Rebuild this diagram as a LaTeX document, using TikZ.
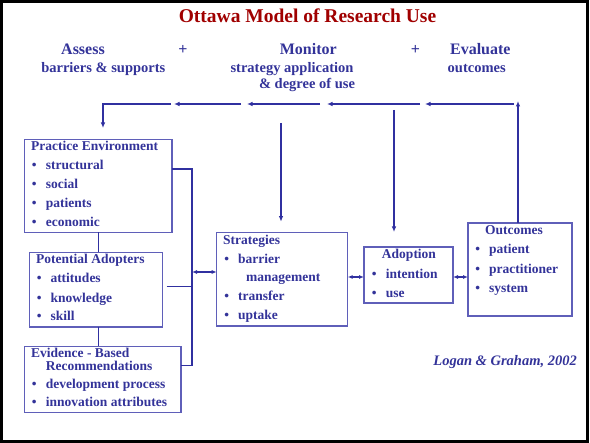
\documentclass[tikz,border=0pt]{standalone}
\usepackage{fontspec}
\setmainfont{Liberation Serif}
\usetikzlibrary{arrows.meta}
\definecolor{txt}{RGB}{51,51,153}
\definecolor{ln}{RGB}{48,48,160}
\definecolor{bx}{RGB}{95,95,185}
\definecolor{ttl}{RGB}{160,0,0}
\tikzset{
 box/.style={draw=bx, line width=1.2pt, inner sep=0pt, outer sep=0pt, anchor=north west},
 t/.style={text=txt, font=\fontsize{13.5}{14}\selectfont\bfseries, inner sep=0pt, anchor=base west},
 tc/.style={text=txt, font=\fontsize{13.5}{14}\selectfont\bfseries, inner sep=0pt, anchor=base},
 bl/.style={text=txt, font=\fontsize{13.5}{14}\selectfont\bfseries, inner sep=0pt, anchor=base},
 hd/.style={text=txt, font=\fontsize{16}{18}\selectfont\bfseries, inner sep=0pt, anchor=base},
 sh/.style={text=txt, font=\fontsize{14.5}{16}\selectfont\bfseries, inner sep=0pt, anchor=base},
 conn/.style={draw=ln, line width=1.5pt},
 arr/.style={conn, -{Latex[length=5.5pt,width=4.5pt]}},
 dbl/.style={conn, {Latex[length=5pt,width=4pt]}-{Latex[length=5pt,width=4pt]}},
}
\begin{document}
\begin{tikzpicture}[x=1pt,y=-1pt]
\useasboundingbox (0,0) rectangle (590,443);
\draw[black, line width=2.6pt] (1.3,1.3) rectangle (587.7,441.7);
% title
\node[text=ttl, font=\fontsize{19.5}{22}\selectfont\bfseries, inner sep=0pt, anchor=base] (title) at (307.5,23) {Ottawa Model of Research Use};
% headers
\node[hd] (h1) at (83,55) {Assess};
\node[hd] (p1) at (183,55) {+};
\node[hd] (h2) at (308.3,55) {Monitor};
\node[hd] (p2) at (415.5,55) {+};
\node[hd] (h3) at (480.3,55) {Evaluate};
\node[sh] (s1) at (103.3,72.3) {barriers \& supports};
\node[sh] (s2) at (292,72.3) {strategy application};
\node[sh] (s3) at (307,88.3) {\& degree of use};
\node[sh] (s4) at (476.7,72.3) {outcomes};
% boxes
\node[box, minimum width=147.7pt, minimum height=93pt] (pe) at (24.3,139.3) {};
\node[box, minimum width=133.4pt, minimum height=74.7pt] (pa) at (29.3,252.3) {};
\node[box, minimum width=156.7pt, minimum height=66.4pt] (ebr) at (24.3,346.3) {};
\node[box, minimum width=131pt, minimum height=93.3pt] (st) at (216.7,232.7) {};
\node[box, minimum width=89pt, minimum height=56pt] (ad) at (364,247) {};
\node[box, minimum width=104pt, minimum height=93pt] (oc) at (468,223) {};
% practice environment
\node[t] (pe0) at (31,150.7) {Practice Environment};
\node[bl] (peb1) at (34.3,169.7) {•}; \node[t] (pe1) at (45.7,169.7) {structural};
\node[bl] (peb2) at (34.3,188.3) {•}; \node[t] (pe2) at (45.7,188.3) {social};
\node[bl] (peb3) at (34.3,207.3) {•}; \node[t] (pe3) at (45.7,207.3) {patients};
\node[bl] (peb4) at (34.3,226.3) {•}; \node[t] (pe4) at (45.7,226.3) {economic};
% potential adopters
\node[t] (pa0) at (36,264) {Potential Adopters};
\node[bl] (pab1) at (39.3,283) {•}; \node[t] (pa1) at (50.3,283) {attitudes};
\node[bl] (pab2) at (39.3,303) {•}; \node[t] (pa2) at (50.3,303) {knowledge};
\node[bl] (pab3) at (39.3,320.7) {•}; \node[t] (pa3) at (50.3,320.7) {skill};
% evidence
\node[text=txt, font=\fontsize{13.5}{13}\selectfont\bfseries, inner sep=0pt, anchor=base west, align=left] (eb0) at (31,370.5) {Evidence - Based\\\hspace*{14.7pt}Recommendations};
\node[bl] (ebb1) at (34.3,388.3) {•}; \node[t] (eb1) at (45.7,388.3) {development process};
\node[bl] (ebb2) at (34.3,406.7) {•}; \node[t] (eb2) at (45.7,406.7) {innovation attributes};
% strategies
\node[t] (st0) at (223,245) {Strategies};
\node[bl] (stb1) at (226.7,264) {•}; \node[t] (st1) at (238,264) {barrier};
\node[t] (st1b) at (246,282) {management};
\node[bl] (stb2) at (226.7,300.7) {•}; \node[t] (st2) at (238,300.7) {transfer};
\node[bl] (stb3) at (226.7,320) {•}; \node[t] (st3) at (238,320) {uptake};
% adoption
\node[tc] (ad0) at (409,259) {Adoption};
\node[bl] (adb1) at (374.3,278.3) {•}; \node[t] (ad1) at (385.7,278.3) {intention};
\node[bl] (adb2) at (374.3,297.3) {•}; \node[t] (ad2) at (385.7,297.3) {use};
% outcomes
\node[tc] (oc0) at (514,235) {Outcomes};
\node[bl] (ocb1) at (477.7,254) {•}; \node[t] (oc1) at (489,254) {patient};
\node[bl] (ocb2) at (477.7,273.3) {•}; \node[t] (oc2) at (489,273.3) {practitioner};
\node[bl] (ocb3) at (477.7,292.3) {•}; \node[t] (oc3) at (489,292.3) {system};
% citation
\node[text=txt, font=\fontsize{14.5}{16}\selectfont\bfseries\itshape, inner sep=0pt, anchor=base east] (cite) at (577,366) {Logan \& Graham, 2002};
% left bus
\coordinate (b1) at (192,169);
\coordinate (b2) at (192,286.7);
\coordinate (b3) at (192,365.7);
\coordinate (bs) at (192,272);
\draw[conn] (pe.east |- b1) -- (b1) -- (b3) -- (ebr.east |- b3);
\draw[conn, shorten <=4pt] (pa.east |- b2) -- (b2);
\draw[dbl] (bs) -- (st.west |- bs);
% vertical links on the left
\draw[conn] (pe.south -| 98.7,0) -- (pa.north -| 98.7,0);
\draw[conn] (pa.south -| 98.7,0) -- (ebr.north -| 98.7,0);
% strategies - adoption - outcomes
\coordinate (r) at (0,277);
\draw[dbl] (st.east |- r) -- (ad.west |- r);
\draw[dbl] (ad.east |- r) -- (oc.west |- r);
% feedback loop
\coordinate (top) at (518,101);
\draw[arr] (oc.north -| top) -- (top);
\coordinate (f0) at (514,104);
\coordinate (f1) at (425,104);
\coordinate (f2) at (420,104);
\coordinate (f3) at (327,104);
\coordinate (f4) at (320,104);
\coordinate (f5) at (247,104);
\coordinate (f6) at (241,104);
\coordinate (f7) at (174,104);
\coordinate (f8) at (171,104);
\coordinate (f9) at (103,104);
\coordinate (f10) at (103,128);
\draw[arr] (f0) -- (f1);
\draw[arr] (f2) -- (f3);
\draw[arr] (f4) -- (f5);
\draw[arr] (f6) -- (f7);
\draw[arr] (f8) -- (f9) -- (f10);
% monitor links
\coordinate (m1) at (281,123);
\coordinate (m2) at (394,110);
\draw[arr, shorten >=11pt] (m1) -- (m1 |- st.north);
\draw[arr, shorten >=15pt] (m2) -- (m2 |- ad.north);
\end{tikzpicture}
\end{document}
